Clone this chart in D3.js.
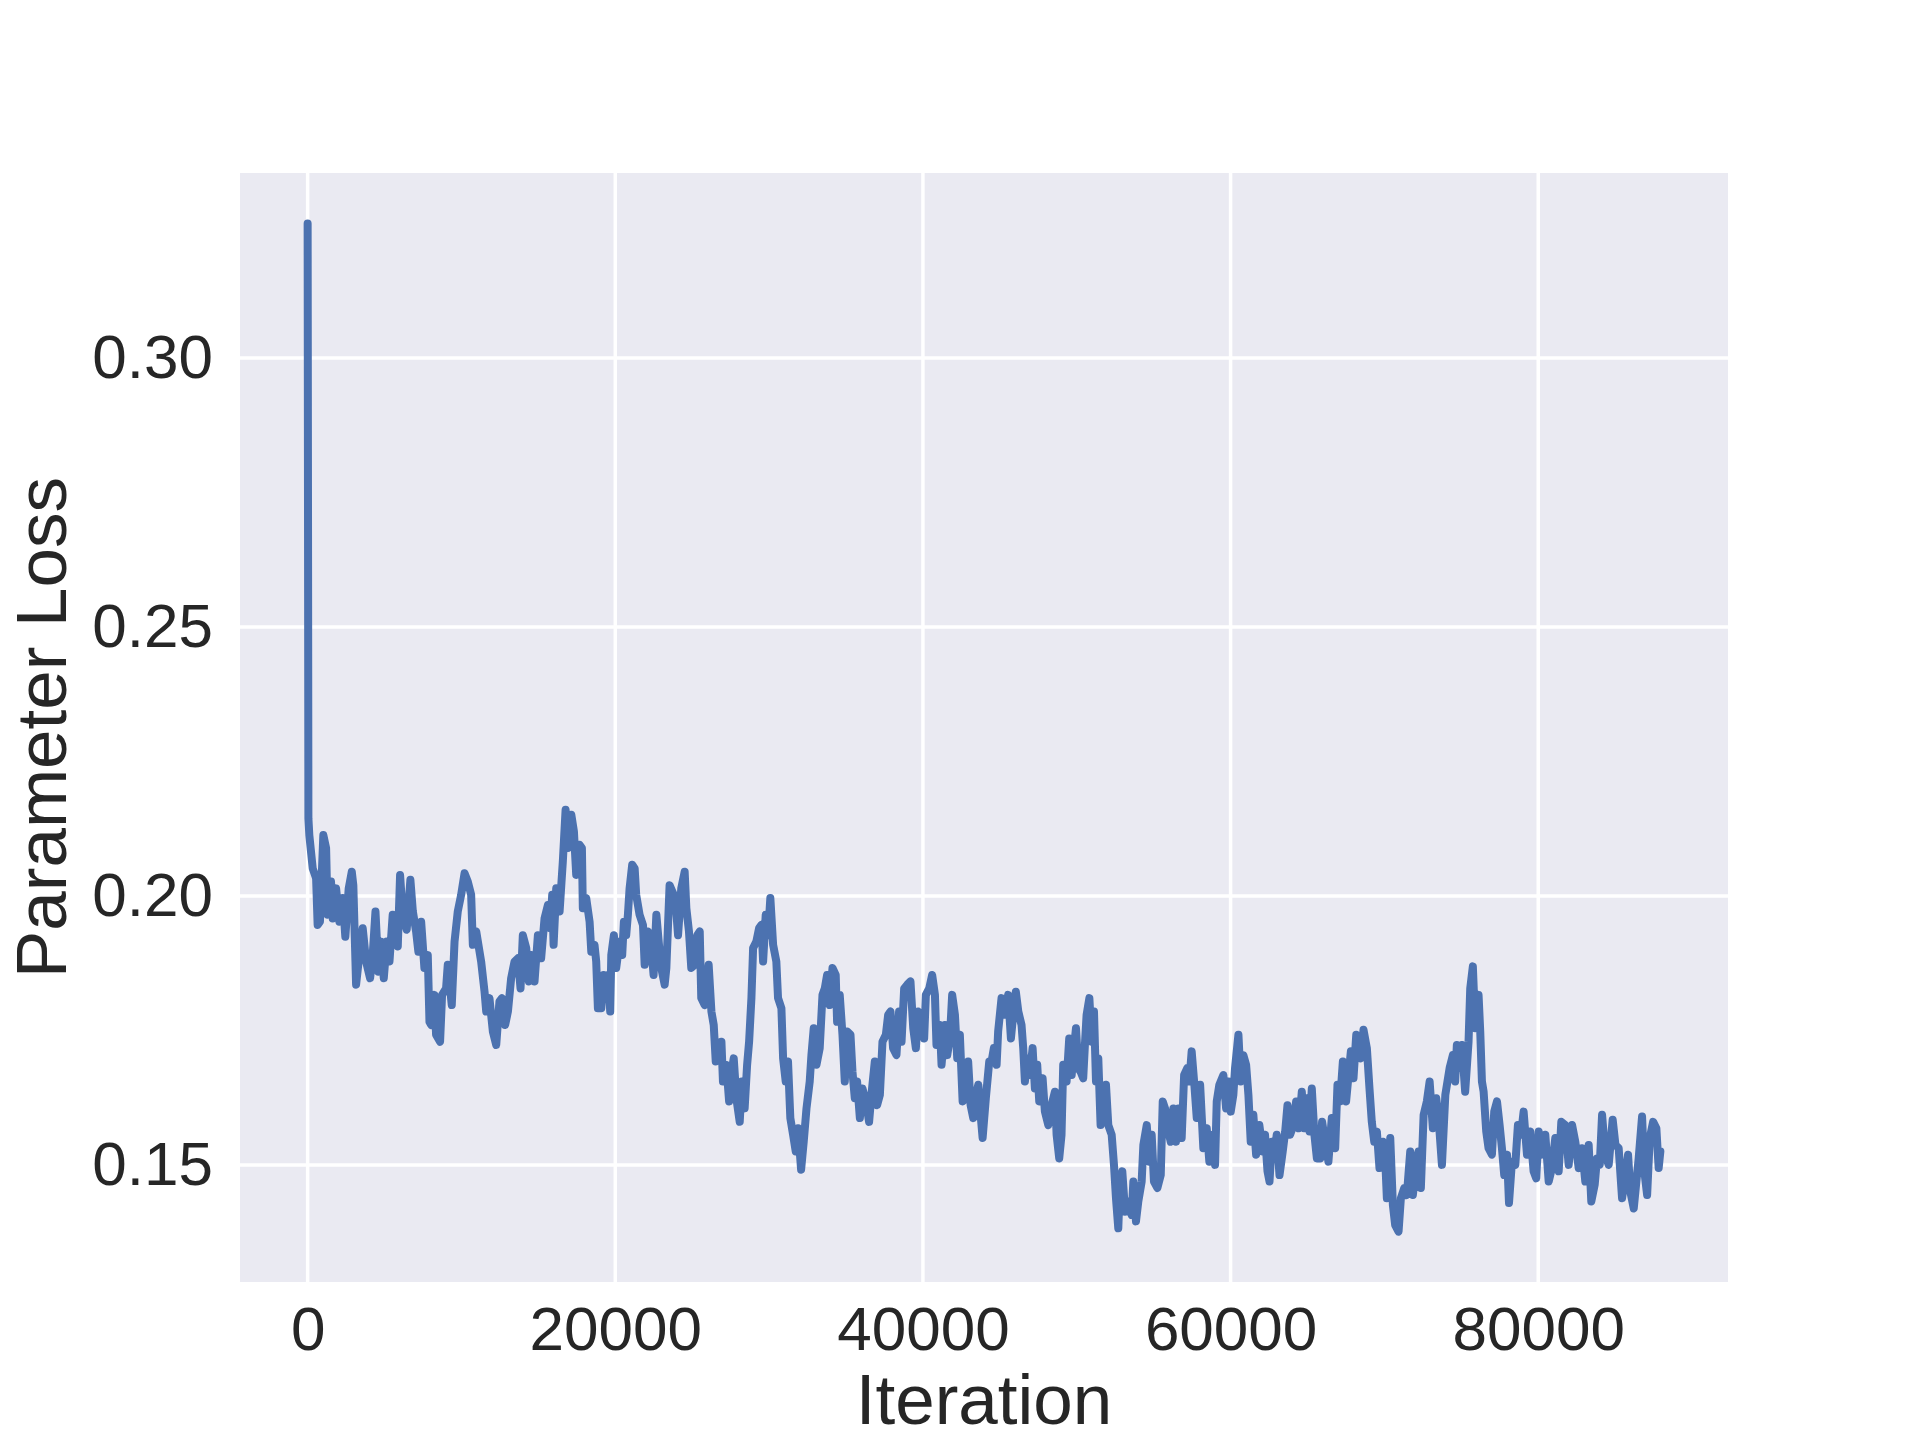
<!DOCTYPE html>
<html>
<head>
<meta charset="utf-8">
<script src="https://cdn.jsdelivr.net/npm/d3@7"></script>
<style>
    body { margin: 0; background: #ffffff; }
    text { font-family: "Liberation Sans", Arial, sans-serif; fill: #262626; }
</style>
</head>
<body>
<div id="chart"></div>
<script>
// training iterations (x) and parameter loss (y)
let iterations = [
    0, 50, 110, 330, 550, 650, 800, 1020, 1200, 1300,
    1520, 1630, 1850, 2060, 2280, 2450, 2670, 2870, 2970, 3150,
    3360, 3580, 3800, 4060, 4230, 4410, 4600, 4770, 4950, 5140,
    5320, 5530, 5710, 5860, 6010, 6180, 6440, 6680, 6840, 7050,
    7200, 7380, 7590, 7810, 7920, 8030, 8240, 8350, 8610, 8740,
    9000, 9110, 9370, 9550, 9760, 9980, 10200, 10410, 10630, 10740,
    10960, 11280, 11500, 11610, 11820, 12040, 12260, 12470, 12630, 12840,
    13020, 13230, 13450, 13670, 13840, 13990, 14210, 14380,
    14530, 14750, 14970, 15180, 15400, 15620, 15770, 15900, 15990, 16160,
    16380, 16490, 16590, 16770, 16920, 17140, 17310, 17460, 17680, 17830,
    17890, 18110, 18330, 18440, 18650, 18760, 18870, 19090, 19240, 19410,
    19540, 19670, 19740, 19910, 20060, 20280, 20450, 20560, 20710, 20820,
    20930, 21100, 21260, 21360, 21580, 21800, 21910, 22120, 22280, 22490,
    22670, 22840, 22990, 23210, 23320, 23530, 23710, 23900, 24080, 24290,
    24510, 24620, 24790, 24940, 25160, 25330, 25490, 25590, 25810, 25920,
    26070, 26250, 26400, 26530, 26740, 26900, 27000, 27220, 27400, 27550,
    27700, 27870, 28090, 28220, 28410, 28570, 28700, 28850, 28960, 29170,
    29350,
    29500, 29610, 29780, 29930, 30080, 30260, 30470, 30580, 30800, 30910,
    31080, 31230, 31380, 31560, 31730, 31880, 32080, 32250, 32430, 32640,
    32750, 32900, 33080, 33290, 33470, 33620, 33770, 33940, 34120, 34330,
    34420, 34590, 34770, 34920, 35070, 35290, 35420, 35570, 35720, 35900,
    36070, 36290, 36500, 36650, 36870, 37020, 37200, 37370, 37590, 37740,
    37890, 38060, 38280, 38450, 38610, 38780, 38980, 39190, 39370, 39540,
    39690, 39910, 40080, 40190, 40410, 40600, 40780, 40880, 41100, 41210,
    41430, 41580, 41750, 41900, 42080, 42230, 42400, 42580, 42790, 42940,
    43100, 43270, 43440, 43600, 43750, 43880, 44090, 44310,
    44460, 44610, 44790, 44890, 45110, 45330, 45540, 45720, 45870, 46040,
    46200, 46410, 46520, 46630, 46780, 46950, 47130, 47280, 47430, 47560,
    47780, 47930, 48150, 48360, 48580, 48690, 48860, 49010, 49120, 49340,
    49510, 49670, 49820, 49950, 50100, 50250, 50420, 50530, 50640, 50820,
    50970, 51120, 51250, 51400, 51550, 51730, 51900, 52050, 52270, 52420,
    52550, 52700, 52810, 52960, 53140, 53350, 53570, 53680, 53850, 54000,
    54220, 54330, 54550, 54720, 54870, 55020, 55240, 55460, 55590, 55740,
    55960, 56110, 56280, 56450, 56610, 56820, 56980, 57190, 57320, 57470,
    57630, 57800, 58020, 58230, 58450, 58620, 58840, 58990, 59100, 59270,
    59530, 59710, 59860, 60010, 60180, 60290, 60510, 60660, 60830, 61010,
    61160, 61310, 61480, 61660, 61870, 62090, 62240, 62400, 62530, 62680,
    62850, 63000, 63180, 63390, 63550, 63700, 63870, 64090, 64260, 64430,
    64630, 64780, 64950, 65130, 65280, 65450, 65610, 65820, 65950, 66150,
    66360, 66580, 66800, 66950, 67120, 67300, 67510, 67670, 67820, 67990,
    68170, 68320, 68470, 68640, 68860, 69030, 69180, 69340, 69510, 69680,
    69900, 70050, 70160, 70380, 70550, 70700, 70920, 71070, 71290, 71460,
    71680, 71850, 72070, 72220, 72370, 72550, 72760, 72940, 73150, 73370,
    73520, 73740, 73960, 74240,
    74450, 74600, 74710, 74890, 75040, 75250, 75470, 75580, 75750, 75910,
    76120, 76230, 76340, 76450, 76620, 76770, 76990, 77140, 77320, 77490,
    77640, 77790, 77970, 78100, 78290, 78510, 78680, 78880, 79050, 79270,
    79480, 79700, 79870, 80030, 80240, 80460, 80680, 80890, 81110, 81330,
    81500, 81760, 81980, 82200, 82410, 82630, 82850, 83060, 83280, 83450,
    83670, 83820, 84000, 84150, 84360, 84580, 84840, 85020, 85230, 85450,
    85670, 85840, 85990, 86210, 86380, 86530, 86750, 86900, 87080, 87250,
    87470, 87680, 87830, 87940
];

let losses = [
    0.3250, 0.2144, 0.2113, 0.2051, 0.2033, 0.1946, 0.1952, 0.2113, 0.2089, 0.1965,
    0.2027, 0.1958, 0.2014, 0.1952, 0.1996, 0.1924, 0.2014, 0.2045, 0.2020, 0.1835,
    0.1890, 0.1940, 0.1878, 0.1847, 0.1890, 0.1971, 0.1859, 0.1915, 0.1847, 0.1915,
    0.1878, 0.1965, 0.1921, 0.1906, 0.2039, 0.1965, 0.1937, 0.2030, 0.1971, 0.1934,
    0.1896, 0.1952, 0.1866, 0.1890, 0.1766, 0.1760, 0.1816, 0.1742, 0.1729, 0.1816,
    0.1828, 0.1872, 0.1797, 0.1915, 0.1971, 0.2002, 0.2042, 0.2027, 0.2002, 0.1909,
    0.1934, 0.1878, 0.1822, 0.1785, 0.1810, 0.1748, 0.1723, 0.1804, 0.1810, 0.1760,
    0.1785, 0.1847, 0.1878, 0.1884, 0.1828, 0.1927, 0.1903, 0.1841,
    0.1890, 0.1841, 0.1927, 0.1884, 0.1958, 0.1983, 0.1940, 0.2002, 0.1909, 0.2014,
    0.1971, 0.2020, 0.2064, 0.2160, 0.2089, 0.2151, 0.2120, 0.2039, 0.2095, 0.2089,
    0.1977, 0.1996, 0.1952, 0.1896, 0.1909, 0.1878, 0.1791, 0.1791, 0.1853, 0.1810,
    0.1853, 0.1785, 0.1890, 0.1927, 0.1866, 0.1915, 0.1890, 0.1952, 0.1927, 0.1965,
    0.2014, 0.2058, 0.2051, 0.2002, 0.1965, 0.1946, 0.1872, 0.1934, 0.1927, 0.1853,
    0.1965, 0.1909, 0.1866, 0.1835, 0.1866, 0.2020, 0.2008, 0.1996, 0.1927, 0.2014,
    0.2045, 0.1977, 0.1934, 0.1866, 0.1872, 0.1927, 0.1934, 0.1810, 0.1797, 0.1828,
    0.1872, 0.1785, 0.1760, 0.1692, 0.1704, 0.1729, 0.1655, 0.1686, 0.1618, 0.1673,
    0.1698, 0.1624, 0.1580, 0.1655, 0.1605, 0.1686, 0.1729, 0.1810, 0.1903, 0.1915,
    0.1940,
    0.1946, 0.1878, 0.1965, 0.1927, 0.1996, 0.1909, 0.1878, 0.1810, 0.1791, 0.1698,
    0.1655, 0.1692, 0.1587, 0.1556, 0.1525, 0.1568, 0.1491, 0.1543, 0.1605, 0.1655,
    0.1704, 0.1754, 0.1686, 0.1717, 0.1816, 0.1828, 0.1853, 0.1797, 0.1866, 0.1853,
    0.1766, 0.1816, 0.1742, 0.1655, 0.1748, 0.1742, 0.1673, 0.1624, 0.1655, 0.1587,
    0.1642, 0.1618, 0.1580, 0.1630, 0.1692, 0.1611, 0.1630, 0.1729, 0.1742, 0.1779,
    0.1785, 0.1717, 0.1704, 0.1785, 0.1729, 0.1828, 0.1835, 0.1841, 0.1754, 0.1717,
    0.1785, 0.1779, 0.1735, 0.1816, 0.1828, 0.1853, 0.1816, 0.1723, 0.1760, 0.1686,
    0.1760, 0.1704, 0.1735, 0.1816, 0.1779, 0.1698, 0.1742, 0.1618, 0.1624, 0.1692,
    0.1611, 0.1587, 0.1630, 0.1649, 0.1593, 0.1550, 0.1624, 0.1692,
    0.1692, 0.1717, 0.1686, 0.1748, 0.1810, 0.1779, 0.1816, 0.1735, 0.1779, 0.1822,
    0.1785, 0.1760, 0.1717, 0.1655, 0.1698, 0.1667, 0.1717, 0.1642, 0.1686, 0.1618,
    0.1661, 0.1599, 0.1574, 0.1611, 0.1636, 0.1556, 0.1512, 0.1556, 0.1686, 0.1655,
    0.1735, 0.1667, 0.1717, 0.1754, 0.1680, 0.1673, 0.1661, 0.1723, 0.1779, 0.1810,
    0.1729, 0.1785, 0.1655, 0.1698, 0.1574, 0.1624, 0.1649, 0.1574, 0.1556, 0.1500,
    0.1438, 0.1382, 0.1469, 0.1488, 0.1413, 0.1432, 0.1407, 0.1469, 0.1395, 0.1432,
    0.1469, 0.1537, 0.1574, 0.1506, 0.1556, 0.1469, 0.1457, 0.1481, 0.1618, 0.1605,
    0.1562, 0.1543, 0.1605, 0.1543, 0.1605, 0.1550, 0.1667, 0.1680, 0.1655, 0.1711,
    0.1655, 0.1587, 0.1649, 0.1531, 0.1568, 0.1506, 0.1556, 0.1500, 0.1618, 0.1649,
    0.1667, 0.1605, 0.1655, 0.1599, 0.1630, 0.1680, 0.1742, 0.1655, 0.1704, 0.1686,
    0.1630, 0.1543, 0.1593, 0.1519, 0.1574, 0.1525, 0.1556, 0.1488, 0.1469, 0.1543,
    0.1519, 0.1556, 0.1481, 0.1525, 0.1562, 0.1611, 0.1556, 0.1574, 0.1618, 0.1568,
    0.1636, 0.1568, 0.1624, 0.1562, 0.1642, 0.1556, 0.1512, 0.1512, 0.1580, 0.1543,
    0.1506, 0.1587, 0.1531, 0.1649, 0.1618, 0.1692, 0.1618, 0.1667, 0.1711, 0.1661,
    0.1742, 0.1717, 0.1698, 0.1751, 0.1717, 0.1642, 0.1580, 0.1543, 0.1562, 0.1494,
    0.1543, 0.1512, 0.1438, 0.1550, 0.1426, 0.1388, 0.1376, 0.1438, 0.1457, 0.1444,
    0.1525, 0.1444, 0.1500, 0.1525, 0.1457, 0.1593, 0.1618, 0.1655, 0.1568, 0.1624,
    0.1587, 0.1500, 0.1630, 0.1680,
    0.1704, 0.1655, 0.1723, 0.1680, 0.1723, 0.1636, 0.1729, 0.1828, 0.1869, 0.1754,
    0.1816, 0.1748, 0.1655, 0.1636, 0.1562, 0.1531, 0.1519, 0.1599, 0.1618, 0.1574,
    0.1531, 0.1481, 0.1519, 0.1429, 0.1506, 0.1500, 0.1574, 0.1556, 0.1599, 0.1519,
    0.1562, 0.1488, 0.1475, 0.1562, 0.1519, 0.1556, 0.1469, 0.1494, 0.1550, 0.1488,
    0.1580, 0.1574, 0.1500, 0.1574, 0.1543, 0.1494, 0.1531, 0.1469, 0.1537, 0.1432,
    0.1463, 0.1512, 0.1500, 0.1593, 0.1519, 0.1500, 0.1584, 0.1537, 0.1531, 0.1438,
    0.1481, 0.1519, 0.1450, 0.1419, 0.1469, 0.1512, 0.1590, 0.1488, 0.1444, 0.1550,
    0.1580, 0.1568, 0.1494, 0.1525
];

let xTicks = [0, 20000, 40000, 60000, 80000];
let yTicks = [0.15, 0.20, 0.25, 0.30];
let yTickLabels = ["0.15", "0.20", "0.25", "0.30"];
let xLabel = "Iteration";
let yLabel = "Parameter Loss";

let width = 1920,
    height = 1440;
let margin = { top: 173, right: 192, bottom: 158, left: 240 };
let plotW = width - margin.left - margin.right,
    plotH = height - margin.top - margin.bottom;

let svg, plot, xScale, yScale;
let datapoints = d3.zip(iterations, losses);

createSVG();
createScales();
drawBackground();
drawLine();
drawAxes();
drawLabels();

function createSVG() {
    svg = d3.select("#chart")
        .append("svg")
        .attr("width", width)
        .attr("height", height);
    plot = svg.append("g")
        .attr("transform", "translate(" + margin.left + "," + margin.top + ")");
}

function createScales() {
    // matplotlib style 5% padding round the data
    let xExt = d3.extent(iterations),
        yExt = d3.extent(losses);
    let xPad = (xExt[1] - xExt[0]) * 0.05,
        yPad = (yExt[1] - yExt[0]) * 0.05;
    xScale = d3.scaleLinear().domain([xExt[0] - xPad, xExt[1] + xPad]).range([0, plotW]);
    yScale = d3.scaleLinear().domain([yExt[0] - yPad, yExt[1] + yPad]).range([plotH, 0]);
}

function drawBackground() {
    plot.append("rect")
        .attr("width", plotW)
        .attr("height", plotH)
        .attr("fill", "#EAEAF2");

    plot.selectAll(".xgrid")
        .data(xTicks)
        .enter().append("line")
        .attr("class", "xgrid")
        .attr("x1", d => xScale(d)).attr("x2", d => xScale(d))
        .attr("y1", 0).attr("y2", plotH)
        .attr("stroke", "#ffffff")
        .attr("stroke-width", 3.5);

    plot.selectAll(".ygrid")
        .data(yTicks)
        .enter().append("line")
        .attr("class", "ygrid")
        .attr("x1", 0).attr("x2", plotW)
        .attr("y1", d => yScale(d)).attr("y2", d => yScale(d))
        .attr("stroke", "#ffffff")
        .attr("stroke-width", 3.5);
}

function drawLine() {
    let line = d3.line()
        .x(d => xScale(d[0]))
        .y(d => yScale(d[1]));

    plot.append("path")
        .datum(datapoints)
        .attr("d", line)
        .attr("fill", "none")
        .attr("stroke", "#4C72B0")
        .attr("stroke-width", 8)
        .attr("stroke-linejoin", "round")
        .attr("stroke-linecap", "round");
}

function drawAxes() {
    let xAxis = plot.append("g")
        .attr("transform", "translate(0," + plotH + ")")
        .call(d3.axisBottom(xScale).tickValues(xTicks).tickFormat(d3.format("d")).tickSize(0).tickPadding(24));

    let yAxis = plot.append("g")
        .call(d3.axisLeft(yScale).tickValues(yTicks).tickFormat((d, i) => yTickLabels[i]).tickSize(0).tickPadding(27));

    [xAxis, yAxis].forEach(function (ax) {
        ax.select(".domain").remove();
        ax.selectAll("text")
            .attr("font-family", "'Liberation Sans', Arial, sans-serif")
            .attr("font-size", 62)
            .attr("fill", "#262626");
    });
}

function drawLabels() {
    svg.append("text")
        .attr("x", margin.left + plotW / 2)
        .attr("y", 1424)
        .attr("text-anchor", "middle")
        .attr("font-size", 71)
        .text(xLabel);

    svg.append("text")
        .attr("transform", "translate(66," + (margin.top + plotH / 2) + ") rotate(-90)")
        .attr("text-anchor", "middle")
        .attr("font-size", 71)
        .text(yLabel);
}
</script>
</body>
</html>
